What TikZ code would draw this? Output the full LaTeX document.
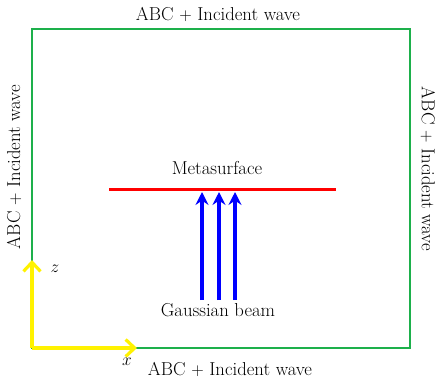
\documentclass[tikz,border=0pt]{standalone}
\usepackage{amsmath}
\usepackage{xcolor}
\usepackage{tikz}
\usetikzlibrary{positioning,arrows.meta}
\definecolor{boxc}{HTML}{1DB04B}
\definecolor{axc}{HTML}{FFF200}

\begin{document}
\begin{tikzpicture}[x=1pt, y=1pt, font=\fontsize{18.7}{22}\selectfont,
  lbl/.style={inner sep=0pt},
  axlbl/.style={inner sep=0pt, font=\fontsize{16}{19}\selectfont},
  beam/.style={draw=blue, line width=3.4pt, -{Stealth[length=13pt, width=13pt, inset=4.5pt]}},
  axis/.style={draw=axc, line width=3.4pt, -{Straight Barb[length=9pt, width=17pt, line width=3.2pt]}}]
  \useasboundingbox (0,0) rectangle (443,381);
  \coordinate (sw) at (32,33);
  \coordinate (ne) at (410,352);
  \draw[boxc, line width=2.2pt] (sw) rectangle (ne);
  \node[lbl] (top) at (218,367) {ABC $+$ Incident wave};
  \node[lbl] (bot) at (230,12) {ABC $+$ Incident wave};
  \node[lbl, rotate=90] (left) at (14,214) {ABC $+$ Incident wave};
  \node[lbl, rotate=-90] (right) at (428,212) {ABC $+$ Incident wave};
  % metasurface
  \coordinate (ms1) at (109,192);
  \coordinate (ms2) at (336,192);
  \draw[red, line width=3pt] (ms1) -- (ms2);
  \node[lbl] (meta) at (217,213) {Metasurface};
  % gaussian beam
  \node[lbl, anchor=north] (gb) at (218,78) {Gaussian beam};
  \foreach \i/\xx in {1/202,2/219,3/235} {
    \coordinate (b\i) at (\xx,81);
    \coordinate (t\i) at (\xx,189);
    \draw[beam] (b\i) -- (t\i);
  }
  % axes
  \coordinate (xe) at (137,33);
  \coordinate (ze) at (32,121);
  \draw[axis] (sw) -- (xe);
  \draw[axis] (sw) -- (ze);
  \node[axlbl] (xl) at (127,19) {$x$};
  \node[axlbl] (zl) at (55,112) {$z$};
\end{tikzpicture}
\end{document}
